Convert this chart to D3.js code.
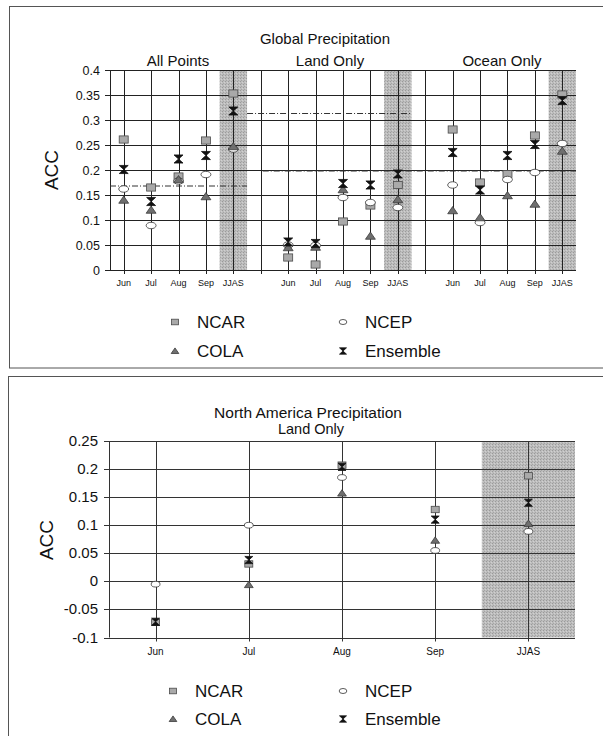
<!DOCTYPE html>
<html><head><meta charset="utf-8">
<script src="https://cdn.jsdelivr.net/npm/d3@7"></script>
<style>
html,body{margin:0;padding:0;background:#fff;}
svg text{font-family:"Liberation Sans",Arial,sans-serif;fill:#111;}
</style></head>
<body><svg id="c" width="603" height="736"></svg>
<script>
// ---------- data ----------
const months = ["Jun","Jul","Aug","Sep","JJAS"];
const panels = ["All Points","Land Only","Ocean Only"];
const seriesNames = ["NCAR","NCEP","COLA","Ensemble"];
const yTicksTop = [0,0.05,0.1,0.15,0.2,0.25,0.3,0.35,0.4];
const yTicksBottom = [-0.1,-0.05,0,0.05,0.1,0.15,0.2,0.25];

// Global precipitation, per panel [All, Land, Ocean], per month
const globalNCAR = [[0.261,0.165,0.187,0.259,0.353],[0.025,0.011,0.097,0.129,0.170],[0.281,0.175,0.192,0.269,0.351]];
const globalNCEP = [[0.162,0.089,0.178,0.191,0.242],[0.050,0.049,0.145,0.135,0.125],[0.170,0.095,0.181,0.195,0.253]];
const globalCOLA = [[0.140,0.120,0.181,0.147,0.247],[0.045,0.046,0.161,0.068,0.141],[0.119,0.105,0.149,0.132,0.238]];
const globalEns  = [[0.201,0.137,0.222,0.229,0.318],[0.056,0.053,0.173,0.170,0.192],[0.235,0.160,0.229,0.251,0.339]];
const globalRef  = [0.168,0.313,0.198];

// North America precipitation, land only
const naNCAR = [-0.073,0.031,0.207,0.128,0.188];
const naNCEP = [-0.005,0.100,0.185,0.055,0.089];
const naCOLA = [null,-0.006,0.157,0.073,0.103];
const naEns  = [-0.072,0.038,0.204,0.110,0.140];

// ---------- drawing ----------
const svg = d3.select("#c");
const defs = svg.append("defs");
const pat = defs.append("pattern").attr("id","stip").attr("width",3).attr("height",3).attr("patternUnits","userSpaceOnUse");
pat.append("rect").attr("width",3).attr("height",3).attr("fill","#bdbdbd");
pat.append("rect").attr("x",0).attr("y",0).attr("width",1).attr("height",1).attr("fill","#9a9a9a");
pat.append("rect").attr("x",2).attr("y",1).attr("width",1).attr("height",1).attr("fill","#d0d0d0");
pat.append("rect").attr("x",1).attr("y",2).attr("width",1).attr("height",1).attr("fill","#a5a5a5");

const styles = {
  NCAR:{fill:"#a9a9a9",stroke:"#4a4a4a"},
  NCEP:{fill:"#ffffff",stroke:"#333"},
  COLA:{fill:"#6f6f6f",stroke:"#3a3a3a"},
  Ensemble:{fill:"#111",stroke:"#111"}
};
function marker(g,name,cx,cy,s){
  const st = styles[name];
  if(name==="NCAR"){
    g.append("rect").attr("x",cx-s*0.5).attr("y",cy-s*0.4).attr("width",s).attr("height",s*0.8)
      .attr("fill",st.fill).attr("stroke",st.stroke).attr("stroke-width",0.8);
  } else if(name==="NCEP"){
    g.append("ellipse").attr("cx",cx).attr("cy",cy).attr("rx",s*0.55).attr("ry",s*0.36)
      .attr("fill",st.fill).attr("stroke",st.stroke).attr("stroke-width",0.8);
  } else if(name==="COLA"){
    const h=s*0.8,w=s*0.55;
    g.append("path").attr("d",`M${cx},${cy-h*0.55}L${cx+w},${cy+h*0.45}L${cx-w},${cy+h*0.45}Z`)
      .attr("fill",st.fill).attr("stroke",st.stroke).attr("stroke-width",0.8);
  } else {
    const w=s*0.5,h=s*0.45;
    g.append("path").attr("d",`M${cx-w},${cy-h}L${cx+w},${cy-h}L${cx},${cy}L${cx+w},${cy+h}L${cx-w},${cy+h}L${cx},${cy}Z`)
      .attr("fill",st.fill).attr("stroke",st.stroke).attr("stroke-width",0.8).attr("stroke-linejoin","round");
  }
}

// frames
svg.append("rect").attr("x",9.5).attr("y",6.5).attr("width",620).attr("height",361.5)
  .attr("fill","none").attr("stroke","#555").attr("stroke-width",1);
svg.append("rect").attr("x",8.5).attr("y",376.5).attr("width",620).attr("height",400)
  .attr("fill","none").attr("stroke","#555").attr("stroke-width",1);

// ===== TOP CHART =====
(function(){
  const cats = d3.range(17);
  const x = d3.scaleBand().domain(cats).range([110,576]).padding(0);
  const y = d3.scaleLinear().domain([0,0.4]).range([270,70]);
  const xc = i => x(i)+x.bandwidth()/2;
  const idx = (p,m) => p*6+m;
  const g = svg.append("g");
  panels.forEach((p,pi)=>{
    g.append("rect").attr("x",x(idx(pi,4))).attr("y",y(0.4)).attr("width",x.bandwidth()).attr("height",y(0)-y(0.4))
      .attr("fill","url(#stip)");
  });
  yTicksTop.forEach(t=>{
    g.append("line").attr("x1",105).attr("x2",576).attr("y1",Math.round(y(t))+0.5).attr("y2",Math.round(y(t))+0.5)
      .attr("stroke","#222").attr("stroke-width",1);
  });
  g.append("line").attr("x1",110.5).attr("x2",110.5).attr("y1",y(0.4)).attr("y2",y(0)).attr("stroke","#222");
  cats.forEach(i=>{
    const xx=Math.round(xc(i))+0.5;
    g.append("line").attr("x1",xx).attr("x2",xx).attr("y1",y(0.4)).attr("y2",y(0)+4).attr("stroke","#222").attr("stroke-width",1);
  });
  yTicksTop.forEach(t=>{
    g.append("text").attr("x",100).attr("y",y(t)+4.5).attr("text-anchor","end").attr("font-size",12.5).text(+t.toFixed(2));
  });
  panels.forEach((p,pi)=>months.forEach((m,mi)=>{
    g.append("text").attr("x",xc(idx(pi,mi))).attr("y",286).attr("text-anchor","middle").attr("font-size",9).text(m);
  }));
  const refSpans = [[x(0),x(4)+x.bandwidth()],[x(4)+x.bandwidth(),x(10)+x.bandwidth()],[xc(5)+2,576]];
  globalRef.forEach((v,pi)=>{
    g.append("line").attr("x1",refSpans[pi][0]).attr("x2",refSpans[pi][1]).attr("y1",y(v)).attr("y2",y(v))
      .attr("stroke","#333").attr("stroke-width",1).attr("stroke-dasharray","6,2,1,2");
  });
  const sets = {NCAR:globalNCAR,NCEP:globalNCEP,COLA:globalCOLA,Ensemble:globalEns};
  ["NCAR","NCEP","COLA","Ensemble"].forEach(n=>{
    sets[n].forEach((arr,pi)=>arr.forEach((v,mi)=>{
      if(v==null) return;
      marker(g,n,xc(idx(pi,mi)),y(v),9);
    }));
  });
  g.append("text").attr("x",325).attr("y",44).attr("text-anchor","middle").attr("font-size",15).text("Global Precipitation");
  [178,330,502].forEach((cx,pi)=>{
    g.append("text").attr("x",cx).attr("y",66).attr("text-anchor","middle").attr("font-size",15).text(panels[pi]);
  });
  g.append("text").attr("transform","translate(58,170) rotate(-90)").attr("text-anchor","middle").attr("font-size",19).text("ACC");
  const lg=[["NCAR",175,322],["NCEP",343,322],["COLA",175,351],["Ensemble",343,351]];
  lg.forEach(([n,lx,ly])=>{
    marker(g,n,lx,ly,7);
    g.append("text").attr("x",lx+22).attr("y",ly+6).attr("font-size",17).text(n);
  });
})();

// ===== BOTTOM CHART =====
(function(){
  const x = d3.scaleBand().domain(months).range([109,575]).padding(0);
  const y = d3.scaleLinear().domain([-0.1,0.25]).range([637.5,441]);
  const xc = m => x(m)+x.bandwidth()/2;
  const g = svg.append("g");
  g.append("rect").attr("x",x("JJAS")).attr("y",y(0.25)).attr("width",x.bandwidth()).attr("height",y(-0.1)-y(0.25))
    .attr("fill","url(#stip)");
  yTicksBottom.forEach(t=>{
    g.append("line").attr("x1",104).attr("x2",575).attr("y1",Math.round(y(t))+0.5).attr("y2",Math.round(y(t))+0.5)
      .attr("stroke","#333").attr("stroke-width",1);
  });
  g.append("line").attr("x1",109.5).attr("x2",109.5).attr("y1",y(0.25)).attr("y2",y(-0.1)).attr("stroke","#333");
  months.forEach(m=>{
    const xx=Math.round(xc(m))+0.5;
    g.append("line").attr("x1",xx).attr("x2",xx).attr("y1",y(0.25)).attr("y2",y(-0.1)+4).attr("stroke","#333");
  });
  yTicksBottom.forEach(t=>{
    g.append("text").attr("x",98).attr("y",y(t)+5).attr("text-anchor","end").attr("font-size",15).text(+t.toFixed(2));
  });
  months.forEach(m=>{
    g.append("text").attr("x",xc(m)).attr("y",655).attr("text-anchor","middle").attr("font-size",10).text(m);
  });
  const sets = {NCAR:naNCAR,NCEP:naNCEP,COLA:naCOLA,Ensemble:naEns};
  ["NCAR","NCEP","COLA","Ensemble"].forEach(n=>{
    sets[n].forEach((v,mi)=>{
      if(v==null) return;
      marker(g,n,xc(months[mi]),y(v),8);
    });
  });
  g.append("text").attr("x",308).attr("y",418).attr("text-anchor","middle").attr("font-size",15.5).text("North America Precipitation");
  g.append("text").attr("x",311).attr("y",434).attr("text-anchor","middle").attr("font-size",14.5).text("Land Only");
  g.append("text").attr("transform","translate(53,540) rotate(-90)").attr("text-anchor","middle").attr("font-size",19).text("ACC");
  const lg=[["NCAR",173,691],["NCEP",343,691],["COLA",173,719],["Ensemble",343,719]];
  lg.forEach(([n,lx,ly])=>{
    marker(g,n,lx,ly,7);
    g.append("text").attr("x",lx+22).attr("y",ly+6).attr("font-size",17).text(n);
  });
})();
</script></body></html>
